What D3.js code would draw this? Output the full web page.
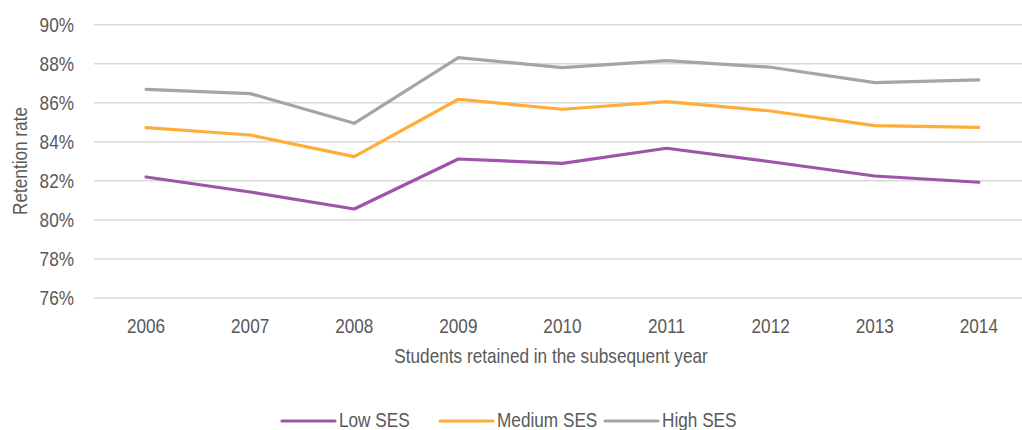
<!DOCTYPE html>
<html>
<head>
	<meta charset="utf-8">
	<title>Retention rate</title>
	<script src="https://d3js.org/d3.v7.min.js"></script>
	<style>
		body { margin: 0; background: #fff; }
		text { font-family: "Liberation Sans", Arial, sans-serif; fill: #595959; font-size: 20px; }
	</style>
</head>
<body>
	<div class="chart"></div>

	<script type="text/javascript">

		var years = ['2006', '2007', '2008', '2009', '2010', '2011', '2012', '2013', '2014']
		var lowSES = [82.2, 81.43, 80.56, 83.12, 82.9, 83.67, 82.98, 82.25, 81.93]
		var mediumSES = [84.73, 84.35, 83.24, 86.18, 85.67, 86.06, 85.58, 84.83, 84.74]
		var highSES = [86.69, 86.47, 84.95, 88.31, 87.8, 88.16, 87.82, 87.03, 87.17]
		var yTicks = [76, 78, 80, 82, 84, 86, 88, 90]
		var seriesNames = ['Low SES', 'Medium SES', 'High SES']

		var width = 1022
		var height = 430
		var colors = ['#9e54a9', '#ffad38', '#a5a5a5']
		var narrow = 0.86 // 模拟窄体字的水平压缩

		var series = seriesNames.map((name, i) => ({
			name: name,
			color: colors[i],
			values: [lowSES, mediumSES, highSES][i]
		}))

		var svg = d3
			.select('.chart')
			.append('svg')
			.attr('width', width)
			.attr('height', height)

		// 比例尺
		var x = d3.scaleBand().domain(years).range([94, 94 + 104.1 * 9])
		var y = d3.scaleLinear().domain([76, 90]).range([298, 24.7])

		// 网格线
		svg.append('g')
			.selectAll('line')
			.data(yTicks)
			.enter()
			.append('line')
			.attr('x1', 94)
			.attr('x2', width)
			.attr('y1', (d) => y(d))
			.attr('y2', (d) => y(d))
			.attr('stroke', '#d9d9d9')
			.attr('stroke-width', 1.5)

		// y 轴标签
		svg.append('g')
			.selectAll('text')
			.data(yTicks)
			.enter()
			.append('text')
			.attr('transform', (d) => `translate(74, ${y(d) + 7}) scale(${narrow}, 1)`)
			.attr('text-anchor', 'end')
			.text((d) => d + '%')

		// x 轴标签
		svg.append('g')
			.selectAll('text')
			.data(years)
			.enter()
			.append('text')
			.attr('transform', (d) => `translate(${x(d) + x.bandwidth() / 2}, 333) scale(${narrow}, 1)`)
			.attr('text-anchor', 'middle')
			.text((d) => d)

		// 轴标题
		svg.append('text')
			.attr('transform', `translate(551, 363) scale(${narrow}, 1)`)
			.attr('text-anchor', 'middle')
			.text('Students retained in the subsequent year')

		svg.append('text')
			.attr('transform', `translate(27, 161) rotate(-90) scale(${narrow}, 1)`)
			.attr('text-anchor', 'middle')
			.text('Retention rate')

		// 折线
		var line = d3.line()
			.x((d, i) => x(years[i]) + x.bandwidth() / 2)
			.y((d) => y(d))

		svg.append('g')
			.selectAll('path')
			.data(series)
			.enter()
			.append('path')
			.attr('d', (d) => line(d.values))
			.attr('fill', 'none')
			.attr('stroke', (d) => d.color)
			.attr('stroke-width', 3.2)
			.attr('stroke-linejoin', 'round')
			.attr('stroke-linecap', 'round')

		// 图例
		var legendX = [282, 440, 605]
		var legend = svg.append('g')
			.selectAll('g')
			.data(series)
			.enter()
			.append('g')
			.attr('transform', (d, i) => `translate(${legendX[i]}, 421)`)

		legend.append('line')
			.attr('x1', 0)
			.attr('x2', 53)
			.attr('stroke', (d) => d.color)
			.attr('stroke-width', 3.2)
			.attr('stroke-linecap', 'round')

		legend.append('text')
			.attr('transform', `translate(57, 6) scale(${narrow}, 1)`)
			.text((d) => d.name)

	</script>
</body>
</html>
